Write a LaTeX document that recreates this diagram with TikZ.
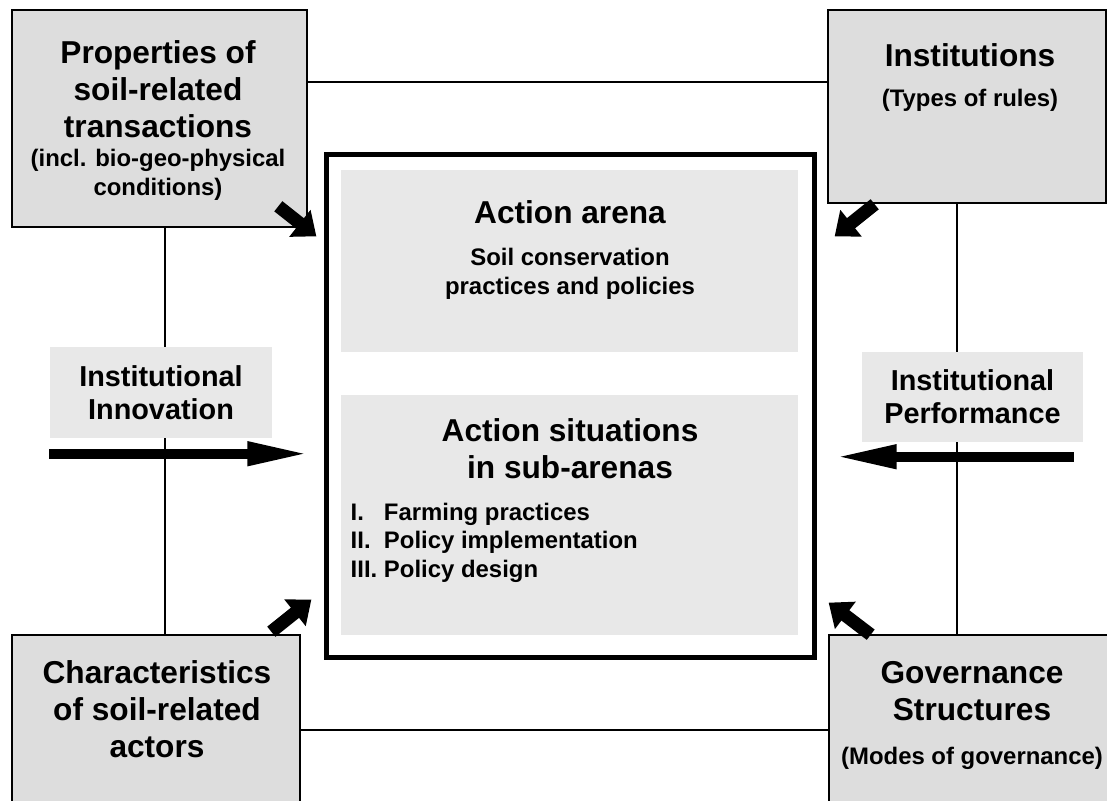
\documentclass[tikz,border=0pt]{standalone}
\usepackage{fontspec}
\setmainfont{Liberation Sans}
\usepackage{xcolor}
\usetikzlibrary{arrows.meta}

\definecolor{boxgray}{HTML}{DDDDDD}
\definecolor{panelgray}{HTML}{E8E8E8}
\newcommand{\titlefont}{\fontsize{9}{10.6}\selectfont\bfseries}
\newcommand{\notefont}{\fontsize{6.8}{8.1}\selectfont\bfseries}
\newcommand{\flowfont}{\fontsize{8.2}{9.4}\selectfont\bfseries}

\begin{document}
\begin{tikzpicture}[x=0.01cm, y=-0.01cm,
    outerbox/.style={draw, line width=0.7pt, fill=boxgray, inner sep=0pt},
    panel/.style={fill=panelgray, inner sep=0pt},
    link/.style={line width=0.6pt},
    txt/.style={align=center, inner sep=0pt},
    flowarrow/.style={line width=0.1cm, -{Triangle[length=0.62cm, width=0.22cm]}},
    pusharrow/.style={line width=0.13cm, -{Triangle[length=0.21cm, width=0.33cm]}}]
    \clip (0,0) rectangle (1107,801); % page size

    % corner boxes
    \node[outerbox, minimum width=2.95cm, minimum height=2.17cm] (props) at (159.5,118.5) {};
    \node[outerbox, minimum width=2.78cm, minimum height=1.93cm] (inst) at (967,106.5) {};
    \node[outerbox, minimum width=2.88cm, minimum height=1.8cm] (actors) at (156,725) {};
    \node[outerbox, minimum width=2.9cm, minimum height=1.8cm] (gov) at (974,725) {};

    \node[txt, font=\titlefont] (propstitle) at (158,89) {Properties of\\soil-related\\transactions};
    \node[txt, font=\notefont] (propsnote) at (158,175) {(incl. bio-geo-physical\\conditions)};
    \node[txt, font=\titlefont] (insttitle) at (970,55) {Institutions};
    \node[txt, font=\notefont] (instnote) at (970,100) {(Types of rules)};
    \node[txt, font=\titlefont] (actorstitle) at (157,709) {Characteristics\\of soil-related\\actors};
    \node[txt, font=\titlefont] (govtitle) at (972,691) {Governance\\Structures};
    \node[txt, font=\notefont] (govnote) at (972,758) {(Modes of governance)};

    % links between the corner boxes
    \coordinate (topy) at (0,82);
    \coordinate (boty) at (0,730);
    \coordinate (leftx) at (165,0);
    \coordinate (rightx) at (957,0);
    \draw[link] (props.east |- topy) -- (inst.west |- topy);
    \draw[link] (actors.east |- boty) -- (gov.west |- boty);
    \draw[link] (props.south -| leftx) -- (actors.north -| leftx);
    \draw[link] (inst.south -| rightx) -- (gov.north -| rightx);

    % central arena
    \node[draw, line width=1.42pt, minimum width=4.87cm, minimum height=5.02cm, inner sep=0pt] (arena) at (570.5,406) {};
    \node[panel, minimum width=4.57cm, minimum height=1.82cm] (arenapanel) at (569.5,261) {};
    \node[panel, minimum width=4.57cm, minimum height=2.4cm] (subpanel) at (569.5,515) {};

    \node[txt, font=\titlefont] (arenatitle) at (570,212) {Action arena};
    \node[txt, font=\notefont] (arenanote) at (570,274) {Soil conservation\\practices and policies};
    \node[txt, font=\titlefont] (subtitle) at (570,449) {Action situations\\in sub-arenas};
    \node[inner sep=0pt, anchor=west, font=\notefont] (sublist) at (350,543) {%
        \begin{tabular}{@{}l@{\hspace{1.9pt}}l@{}}
        I. & Farming practices\\
        II. & Policy implementation\\
        III. & Policy design
        \end{tabular}};

    % innovation and performance
    \node[panel, minimum width=2.22cm, minimum height=0.91cm] (innov) at (161,392.5) {};
    \node[txt, font=\flowfont] at (innov) {Institutional\\Innovation};
    \node[panel, minimum width=2.21cm, minimum height=0.9cm] (perf) at (972.5,397) {};
    \node[txt, font=\flowfont] at (perf) {Institutional\\Performance};

    \path (innov.south west) ++(0,15) coordinate (innovtail);
    \path (arena.west |- innovtail) ++(-15,0) coordinate (innovtip);
    \path (perf.south east) ++(-10,14) coordinate (perftail);
    \path (arena.east |- perftail) ++(18,0) coordinate (perftip);
    \draw[flowarrow] (innovtail) -- (innovtip);
    \draw[flowarrow] (perftail) -- (perftip);

    % push arrows into the arena
    \draw[pusharrow] ([shift={(-30,-22)}]props.south east) -- ([shift={(-8,84)}]arena.north west);
    \draw[pusharrow] ([shift={(48,0)}]inst.south west) -- ([shift={(18,84)}]arena.north east);
    \draw[pusharrow] ([shift={(-30,-2)}]actors.north east) -- ([shift={(-13,-60)}]arena.south west);
    \draw[pusharrow] ([shift={(43,1)}]gov.north west) -- ([shift={(12,-57)}]arena.south east);
\end{tikzpicture}
\end{document}
